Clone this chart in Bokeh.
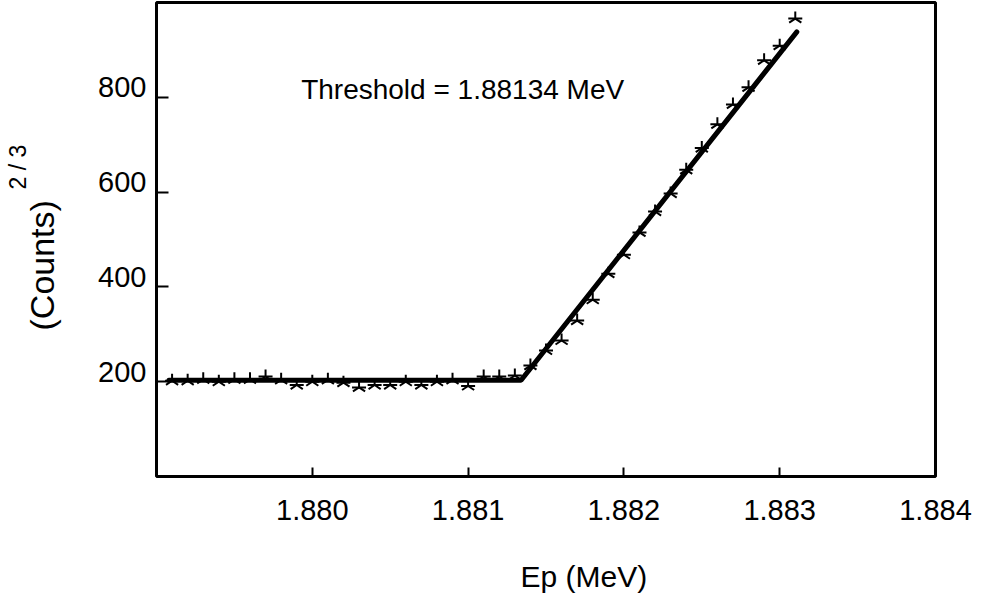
import math
from bokeh.plotting import figure
from bokeh.models import (Range1d, LinearAxis, FixedTicker, Label, Title, PrintfTickFormatter,
                          CustomLabelingPolicy)
from bokeh.embed import file_html
from bokeh.resources import INLINE

# ---- data ----
energy = [1.8791, 1.8792, 1.8793, 1.8794, 1.8795, 1.8796, 1.8797, 1.8798, 1.8799, 1.8800,
          1.8801, 1.8802, 1.8803, 1.8804, 1.8805, 1.8806, 1.8807, 1.8808, 1.8809, 1.8810,
          1.8811, 1.8812, 1.8813, 1.8814, 1.8815, 1.8816, 1.8817, 1.8818, 1.8819, 1.8820,
          1.8821, 1.8822, 1.8823, 1.8824, 1.8825, 1.8826, 1.8827, 1.8828, 1.8829, 1.8830,
          1.8831]
counts23 = [202, 202, 205, 200, 205, 205, 211, 204, 193, 200,
            204, 198, 188, 193, 193, 200, 193, 200, 204, 191,
            211, 211, 213, 234, 266, 287, 329, 373, 428, 468,
            515, 559, 597, 647, 693, 743, 785, 821, 878, 909,
            966]
fit_energy = [1.87908, 1.88134, 1.88311]
fit_counts = [203, 203, 938]
x_ticks = [1.880, 1.881, 1.882, 1.883, 1.884]
y_ticks = [200, 400, 600, 800]

X0, X1 = 1.879, 1.884
Y0, Y1 = 0, 1000
FONT = "Liberation Sans"
NO_LABELS = "return []"


def spacer(gap, at, **kw):
    """A blank axis (white tick, no labels) that only reserves `gap` pixels in a side panel."""
    ax = LinearAxis(ticker=FixedTicker(ticks=[at]), **kw)
    ax.axis_line_color = None
    ax.major_tick_line_color = "white"
    ax.minor_tick_line_color = None
    ax.major_tick_in = 0
    ax.major_tick_out = gap
    ax.major_label_standoff = 0
    ax.major_label_text_font_size = "1px"
    ax.major_label_policy = CustomLabelingPolicy(code=NO_LABELS)
    return ax


p = figure(width=995, height=600, x_range=Range1d(X0, X1), y_range=Range1d(Y0, Y1),
           output_backend="svg", toolbar_location=None,
           min_border_left=156, min_border_right=60, min_border_top=2, min_border_bottom=124)
p.grid.visible = False
p.outline_line_color = "black"
p.outline_line_width = 3
p.background_fill_color = "white"
p.border_fill_color = "white"

# x axis: ticks inside + labels
xa = p.xaxis[0]
xa.ticker = FixedTicker(ticks=x_ticks)
xa.formatter = PrintfTickFormatter(format="%.3f")
xa.axis_line_color = None
xa.major_tick_in = 9
xa.major_tick_out = 0
xa.major_tick_line_width = 2
xa.major_tick_line_color = "black"
xa.minor_tick_line_color = None
xa.major_label_text_font = FONT
xa.major_label_text_font_size = "29px"
xa.major_label_text_color = "black"
xa.major_label_standoff = 23

# x axis title (placed right of centre, as in the original)
p.add_layout(spacer(33, 1.8795), "below")
p.add_layout(Title(text="Ep (MeV)", align="left", offset=364, standoff=0, vertical_align="top",
                   text_font=FONT, text_font_size="30px", text_font_style="normal",
                   text_color="black"), "below")

# y axis: tick marks only
ya = p.yaxis[0]
ya.ticker = FixedTicker(ticks=y_ticks)
ya.axis_line_color = None
ya.major_tick_in = 12
ya.major_tick_out = 0
ya.major_tick_line_width = 2
ya.major_tick_line_color = "black"
ya.minor_tick_line_color = None
ya.major_label_text_font_size = "1px"
ya.major_label_standoff = 0
ya.major_label_policy = CustomLabelingPolicy(code=NO_LABELS)

# y labels sit a little above their ticks, as in the original
dy = 10 / 0.474
p.extra_y_ranges = {"ylab": Range1d(Y0 - dy, Y1 - dy)}
ylab = LinearAxis(y_range_name="ylab", ticker=FixedTicker(ticks=y_ticks),
                  formatter=PrintfTickFormatter(format="%d"))
ylab.axis_line_color = None
ylab.major_tick_line_color = None
ylab.minor_tick_line_color = None
ylab.major_tick_out = 0
ylab.major_tick_in = 0
ylab.major_label_text_font = FONT
ylab.major_label_text_font_size = "29px"
ylab.major_label_text_color = "black"
ylab.major_label_standoff = 5
p.add_layout(ylab, "left")

# y axis title with its exponent
p.add_layout(spacer(30, 950), "left")
p.add_layout(Title(text="(Counts)", align="left", offset=146, standoff=0, vertical_align="bottom",
                   text_font=FONT, text_font_size="34px", text_font_style="normal",
                   text_color="black"), "left")
p.add_layout(Title(text="2 / 3", align="left", offset=287, standoff=-20, vertical_align="bottom",
                   text_font=FONT, text_font_size="23px", text_font_style="normal",
                   text_color="black"), "left")

# data
p.line(fit_energy, fit_counts, line_width=5, line_color="black", line_cap="round")
p.scatter(energy, counts23, marker="y", angle=math.pi, size=14, line_color="black", line_width=2)
p.scatter(energy, counts23, marker="dash", size=14, line_color="black", line_width=2)

p.add_layout(Label(x=1.880965, y=816, text="Threshold = 1.88134 MeV", text_font=FONT,
                   text_font_size="28px", text_align="center", text_baseline="alphabetic",
                   text_color="black"))

open("out.html", "w").write(file_html(p, INLINE))
